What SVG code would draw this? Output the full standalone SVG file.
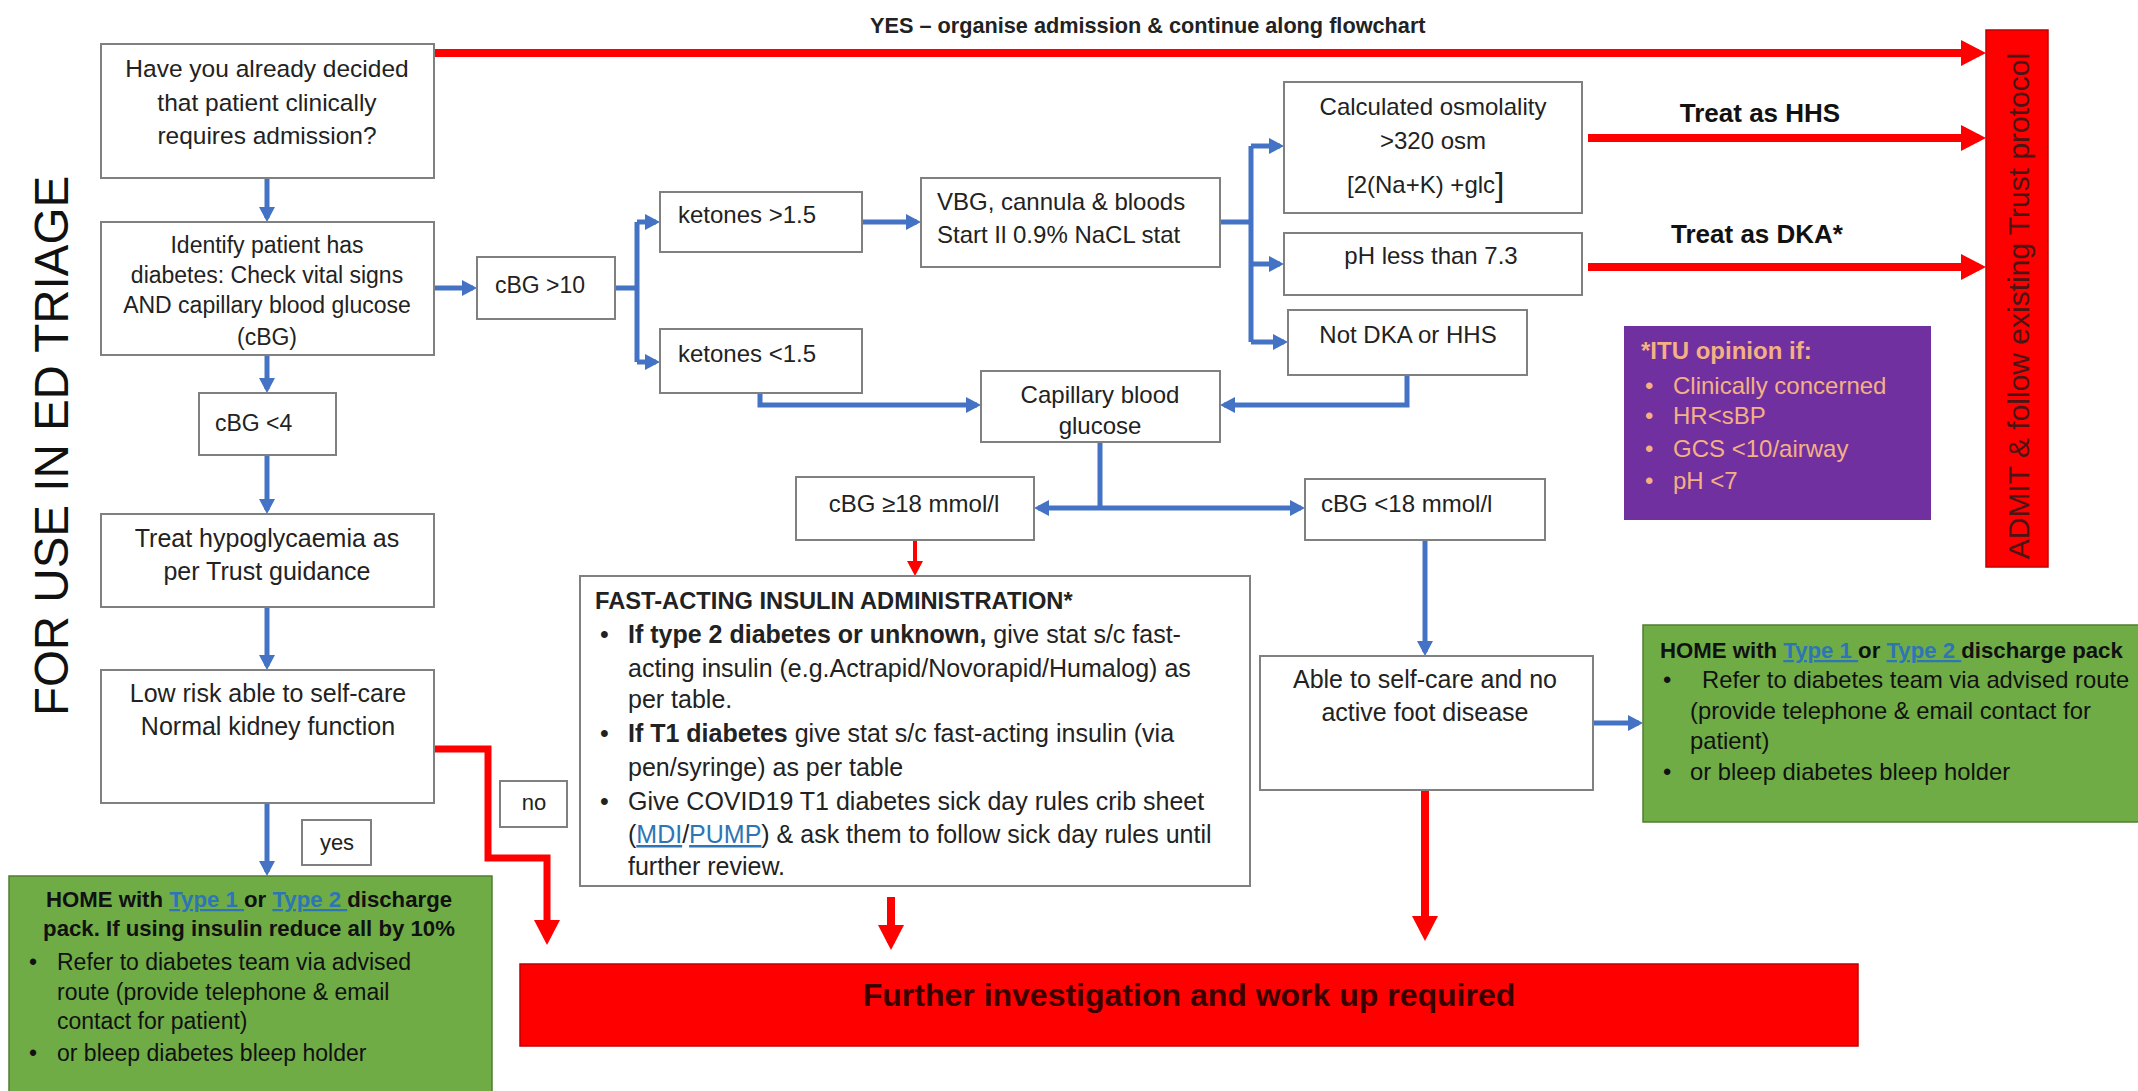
<svg xmlns="http://www.w3.org/2000/svg" width="2138" height="1091" viewBox="0 0 2138 1091">
<style>
.box{fill:#fff;stroke:#808080;stroke-width:2}
.t{font-family:"Liberation Sans",Arial,sans-serif;font-size:24px;fill:#222}
.c{text-anchor:middle}
.b{font-weight:bold}
.blu{stroke:#4472C4;stroke-width:5;fill:none}
.red{stroke:#FF0000;stroke-width:8;fill:none}
.gt{font-family:"Liberation Sans",Arial,sans-serif;font-size:23px;fill:#111}
.lk{fill:#2E75B6;text-decoration:underline}
.pt{font-family:"Liberation Sans",Arial,sans-serif;font-size:24px;fill:#F4B183}
</style>
<defs>
<marker id="ab" markerUnits="userSpaceOnUse" viewBox="0 0 15 16" refX="11" refY="8" markerWidth="15" markerHeight="16" orient="auto"><path d="M0,0 L15,8 L0,16 z" fill="#4472C4"/></marker>
<marker id="ar" markerUnits="userSpaceOnUse" viewBox="0 0 25 26" refX="18" refY="13" markerWidth="25" markerHeight="26" orient="auto"><path d="M0,0 L25,13 L0,26 z" fill="#FF0000"/></marker>
<marker id="ars" markerUnits="userSpaceOnUse" viewBox="0 0 15 16" refX="11" refY="8" markerWidth="15" markerHeight="16" orient="auto"><path d="M0,0 L15,8 L0,16 z" fill="#FF0000"/></marker>
</defs>
<rect width="2138" height="1091" fill="#fff"/>

<text class="t" style="font-size:47.5px;fill:#111" text-anchor="middle" transform="translate(68,446) rotate(-90)">FOR USE IN ED TRIAGE</text>
<text class="t b" x="870" y="33" style="font-size:21.7px">YES – organise admission &amp; continue along flowchart</text>

<g id="connectors">
<path class="red" d="M434,53 H1979" marker-end="url(#ar)"/>
<path class="red" d="M1588,138 H1979" marker-end="url(#ar)"/>
<path class="red" d="M1588,267 H1979" marker-end="url(#ar)"/>
<path class="blu" d="M267,178 V218" marker-end="url(#ab)"/>
<path class="blu" d="M434,288 H473" marker-end="url(#ab)"/>
<path class="blu" d="M615,288 H637 M637,222 V362"/>
<path class="blu" d="M637,222 H656" marker-end="url(#ab)"/>
<path class="blu" d="M637,362 H656" marker-end="url(#ab)"/>
<path class="blu" d="M862,222 H917" marker-end="url(#ab)"/>
<path class="blu" d="M1220,222 H1251 M1251,146 V342"/>
<path class="blu" d="M1251,146 H1280" marker-end="url(#ab)"/>
<path class="blu" d="M1251,264 H1280" marker-end="url(#ab)"/>
<path class="blu" d="M1251,342 H1284" marker-end="url(#ab)"/>
<path class="blu" d="M1407,375 V405 H1224" marker-end="url(#ab)"/>
<path class="blu" d="M760,393 V405 H977" marker-end="url(#ab)"/>
<path class="blu" d="M1100,442 V508"/>
<path class="blu" d="M1100,508 H1038" marker-end="url(#ab)"/>
<path class="blu" d="M1100,508 H1301" marker-end="url(#ab)"/>
<path class="red" style="stroke-width:4" d="M915,540 V572" marker-end="url(#ars)"/>
<path class="blu" d="M1425,540 V652" marker-end="url(#ab)"/>
<path class="blu" d="M1593,723 H1639" marker-end="url(#ab)"/>
<path class="red" d="M1425,790 V934" marker-end="url(#ar)"/>
<path class="red" d="M891,897 V943" marker-end="url(#ar)"/>
<path class="red" style="stroke-width:7" d="M434,749 H488 V858 H547 V938" marker-end="url(#ar)"/>
<path class="blu" d="M267,355 V389" marker-end="url(#ab)"/>
<path class="blu" d="M267,455 V510" marker-end="url(#ab)"/>
<path class="blu" d="M267,607 V666" marker-end="url(#ab)"/>
<path class="blu" d="M267,803 V872" marker-end="url(#ab)"/>
</g>

<g id="n-admission-q">
<rect class="box" x="101" y="44" width="333" height="134"/>
<text class="t c" x="267" y="77" style="font-size:24.5px">Have you already decided</text>
<text class="t c" x="267" y="111" style="font-size:24.5px">that patient clinically</text>
<text class="t c" x="267" y="144" style="font-size:24.5px">requires admission?</text>
</g>

<g id="n-identify">
<rect class="box" x="101" y="222" width="333" height="133"/>
<text class="t c" x="267" y="253" style="font-size:23px">Identify patient has</text>
<text class="t c" x="267" y="283" style="font-size:23px">diabetes: Check vital signs</text>
<text class="t c" x="267" y="313" style="font-size:23px">AND capillary blood glucose</text>
<text class="t c" x="267" y="345" style="font-size:23px">(cBG)</text>
</g>

<g id="n-cbg10">
<rect class="box" x="477" y="257" width="138" height="62"/>
<text class="t" x="495" y="293" style="font-size:23px">cBG &gt;10</text>
</g>

<g id="n-ket-high">
<rect class="box" x="660" y="192" width="202" height="60"/>
<text class="t" x="678" y="223">ketones &gt;1.5</text>
</g>

<g id="n-ket-low">
<rect class="box" x="660" y="329" width="202" height="64"/>
<text class="t" x="678" y="362">ketones &lt;1.5</text>
</g>

<g id="n-vbg">
<rect class="box" x="921" y="178" width="299" height="89"/>
<text class="t" x="937" y="210">VBG, cannula &amp; bloods</text>
<text class="t" x="937" y="243">Start Il 0.9% NaCL stat</text>
</g>

<g id="n-osmo">
<rect class="box" x="1284" y="82" width="298" height="131"/>
<text class="t c" x="1433" y="115">Calculated osmolality</text>
<text class="t c" x="1433" y="149">&gt;320 osm</text>
<text class="t" x="1347" y="193">[2(Na+K) +glc<tspan style="font-size:34px" dy="3">]</tspan></text>
</g>

<g id="n-ph">
<rect class="box" x="1284" y="233" width="298" height="62"/>
<text class="t c" x="1431" y="264">pH less than 7.3</text>
</g>

<g id="n-notdka">
<rect class="box" x="1288" y="310" width="239" height="65"/>
<text class="t c" x="1408" y="343">Not DKA or HHS</text>
</g>

<g id="n-hhs-label">
<text class="t b c" x="1760" y="122" style="font-size:26px;fill:#111">Treat as HHS</text>
</g>
<g id="n-dka-label">
<text class="t b c" x="1757" y="243" style="font-size:26px;fill:#111">Treat as DKA*</text>
</g>

<g id="n-admit">
<rect x="1986" y="30" width="62" height="537" fill="#FF0000" stroke="#C00000" stroke-width="1.5"/>
<text class="t c" style="font-size:30px;fill:#4a1515" transform="translate(2029,306) rotate(-90)">ADMIT &amp; follow existing Trust protocol</text>
</g>

<g id="n-itu">
<rect x="1624" y="326" width="307" height="194" fill="#7030A0"/>
<text class="pt b" x="1641" y="359">*ITU opinion if:</text>
<text class="pt" x="1645" y="394">•</text><text class="pt" x="1673" y="394">Clinically concerned</text>
<text class="pt" x="1645" y="424">•</text><text class="pt" x="1673" y="424">HR&lt;sBP</text>
<text class="pt" x="1645" y="457">•</text><text class="pt" x="1673" y="457">GCS &lt;10/airway</text>
<text class="pt" x="1645" y="489">•</text><text class="pt" x="1673" y="489">pH &lt;7</text>
</g>

<g id="n-capillary">
<rect class="box" x="981" y="371" width="239" height="71"/>
<text class="t c" x="1100" y="403">Capillary blood</text>
<text class="t c" x="1100" y="434">glucose</text>
</g>

<g id="n-cbg18-high">
<rect class="box" x="796" y="477" width="238" height="63"/>
<text class="t c" x="914" y="512">cBG ≥18 mmol/l</text>
</g>

<g id="n-cbg18-low">
<rect class="box" x="1305" y="479" width="240" height="61"/>
<text class="t" x="1321" y="512">cBG &lt;18 mmol/l</text>
</g>

<g id="n-fast">
<rect class="box" x="580" y="576" width="670" height="310"/>
<text class="t b" x="595" y="609" style="font-size:23.7px">FAST-ACTING INSULIN ADMINISTRATION*</text>
<text class="t" x="600" y="643" style="font-size:25px">•</text>
<text class="t" x="628" y="643" style="font-size:25px"><tspan class="b">If type 2 diabetes or unknown,</tspan>  give stat s/c fast-</text>
<text class="t" x="628" y="677" style="font-size:25px">acting insulin (e.g.Actrapid/Novorapid/Humalog) as</text>
<text class="t" x="628" y="708" style="font-size:25px">per table.</text>
<text class="t" x="600" y="742" style="font-size:25px">•</text>
<text class="t" x="628" y="742" style="font-size:25px"><tspan class="b">If T1 diabetes</tspan> give stat s/c fast-acting insulin (via</text>
<text class="t" x="628" y="776" style="font-size:25px">pen/syringe) as per table</text>
<text class="t" x="600" y="810" style="font-size:25px">•</text>
<text class="t" x="628" y="810" style="font-size:25px">Give COVID19 T1 diabetes sick day rules crib sheet</text>
<text class="t" x="628" y="843" style="font-size:25px">(<tspan class="lk">MDI</tspan>/<tspan class="lk">PUMP</tspan>) &amp; ask them to follow sick day rules until</text>
<text class="t" x="628" y="875" style="font-size:25px">further review.</text>
</g>

<g id="n-selfcare">
<rect class="box" x="1260" y="656" width="333" height="134"/>
<text class="t c" x="1425" y="688" style="font-size:25px">Able to self-care and no</text>
<text class="t c" x="1425" y="721" style="font-size:25px">active foot disease</text>
</g>

<g id="n-home-right">
<rect x="1643" y="625" width="500" height="197" fill="#6FAC46" stroke="#507E32" stroke-width="1.5"/>
<text class="gt b" x="1660" y="658" style="font-size:22.2px">HOME with <tspan class="lk">Type 1 </tspan>or <tspan class="lk">Type 2 </tspan>discharge pack</text>
<text class="gt" x="1663" y="688" style="font-size:23.8px">•</text>
<text class="gt" x="1702" y="688" style="font-size:23.8px">Refer to diabetes team via advised route</text>
<text class="gt" x="1690" y="719" style="font-size:23.8px">(provide telephone &amp; email contact for</text>
<text class="gt" x="1690" y="749" style="font-size:23.8px">patient)</text>
<text class="gt" x="1663" y="780" style="font-size:23.8px">•</text>
<text class="gt" x="1690" y="780" style="font-size:23.8px">or bleep diabetes bleep holder</text>
</g>

<g id="n-further">
<rect x="520" y="964" width="1338" height="82" fill="#FF0000" stroke="#C00000" stroke-width="1.5"/>
<text class="t b c" x="1189" y="1006" style="font-size:32px;fill:#3a0000">Further investigation and work up required</text>
</g>

<g id="n-cbg4">
<rect class="box" x="199" y="393" width="137" height="62"/>
<text class="t" x="215" y="431" style="font-size:23px">cBG &lt;4</text>
</g>

<g id="n-hypo">
<rect class="box" x="101" y="514" width="333" height="93"/>
<text class="t c" x="267" y="547" style="font-size:25px">Treat hypoglycaemia as</text>
<text class="t c" x="267" y="580" style="font-size:25px">per Trust guidance</text>
</g>

<g id="n-lowrisk">
<rect class="box" x="101" y="670" width="333" height="133"/>
<text class="t c" x="268" y="702" style="font-size:25px">Low risk able to self-care</text>
<text class="t c" x="268" y="735" style="font-size:25px">Normal kidney function</text>
</g>

<g id="n-yes">
<rect class="box" x="302" y="820" width="69" height="45"/>
<text class="t c" x="337" y="850" style="font-size:22px">yes</text>
</g>

<g id="n-no">
<rect class="box" x="500" y="781" width="67" height="46"/>
<text class="t c" x="534" y="810" style="font-size:22px">no</text>
</g>

<g id="n-home-left">
<rect x="9" y="876" width="483" height="220" fill="#6FAC46" stroke="#507E32" stroke-width="1.5"/>
<text class="gt b c" x="249" y="907" style="font-size:22.2px">HOME with <tspan class="lk">Type 1 </tspan>or <tspan class="lk">Type 2 </tspan>discharge</text>
<text class="gt b c" x="249" y="936" style="font-size:22.2px">pack. If using insulin reduce all by 10%</text>
<text class="gt" x="29" y="970">•</text>
<text class="gt" x="57" y="970">Refer to diabetes team via advised</text>
<text class="gt" x="57" y="1000">route (provide telephone &amp; email</text>
<text class="gt" x="57" y="1029">contact for patient)</text>
<text class="gt" x="29" y="1061">•</text>
<text class="gt" x="57" y="1061">or bleep diabetes bleep holder</text>
</g>
</svg>
